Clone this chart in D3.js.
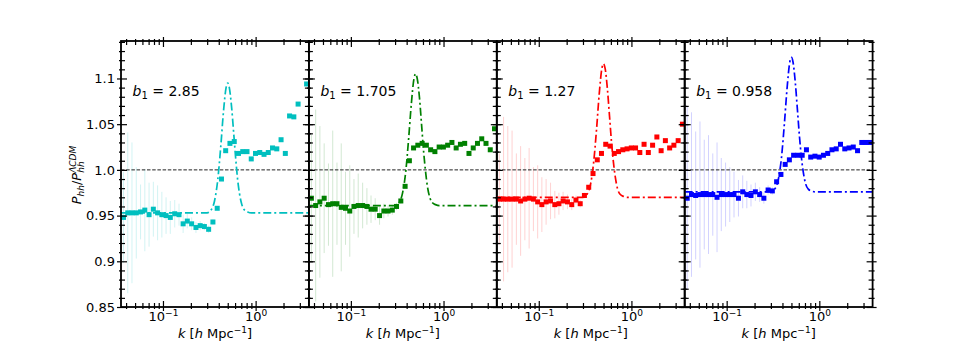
<!DOCTYPE html>
<html>
<head>
<meta charset="utf-8">
<title>Phh ratio panels</title>
<script src="https://d3js.org/d3.v7.min.js"></script>
<style>
  body { margin: 0; background: #fff; }
  svg text { font-family: "DejaVu Sans", sans-serif; fill: #000; }
</style>
</head>
<body>
<svg id="chart" width="969" height="346"></svg>
<script>
// k bins [h/Mpc], same for every panel
var kBins = [0.0375,0.0417,0.0463,0.0515,0.0573,0.0637,0.0708,0.0787,0.0875,0.0973,0.108,0.120,0.134,0.149,0.165,0.183,0.204,0.227,0.252,0.280,0.311,0.346,0.385,0.428,0.475,0.528,0.588,0.653,0.726,0.807,0.897,0.997,1.108,1.232,1.369,1.522,1.692,1.882,2.092,2.325,2.585,2.873,3.194,3.550,3.947];

var ratio1 = [0.948,0.953,0.953,0.953,0.954,0.956,0.951,0.957,0.953,0.951,0.950,0.948,0.952,0.951,0.941,0.944,0.941,0.937,0.939,0.938,0.935,0.943,0.958,0.990,1.021,1.029,1.031,1.018,1.020,1.020,1.012,1.018,1.019,1.017,1.019,1.024,1.023,1.033,1.018,1.059,1.058,1.072,null,1.094,null];
var ratio2 = [0.969,0.961,0.965,0.969,0.962,0.963,0.963,0.959,0.958,0.955,0.960,0.961,0.961,0.960,0.957,0.957,0.950,0.955,0.955,0.956,0.960,0.966,0.982,1.010,1.024,1.027,1.029,1.027,1.022,1.020,1.025,1.025,1.027,1.030,1.024,1.028,1.029,1.018,1.024,1.029,1.034,1.029,1.022,1.045,null];
var ratio3 = [0.968,0.968,0.968,0.968,0.968,0.966,0.968,0.969,0.968,0.965,0.962,0.965,0.966,0.962,0.963,0.966,0.965,0.962,0.967,0.963,0.972,0.981,0.996,1.011,1.018,1.028,1.026,1.018,1.020,1.022,1.023,1.024,1.024,1.019,1.028,1.019,1.027,1.036,1.021,1.032,1.024,1.027,1.032,1.050,null];
var ratio4 = [0.969,0.973,0.972,0.973,0.973,0.973,0.973,0.970,0.973,0.973,0.973,0.973,0.969,0.976,0.973,0.972,0.976,0.973,0.969,0.978,0.977,0.987,0.995,1.006,1.011,1.016,1.016,1.016,1.022,1.014,1.015,1.014,1.016,1.018,1.022,1.023,1.028,1.023,1.024,1.025,1.021,1.030,1.030,1.030,1.051];

// half length of the error bars (only the low-k bins have visible ones)
var err1 = [0.05,0.088,0.077,0.05,0.03,0.045,0.035,0.03,0.03,0.025,0.02,0.018,0.015,0.012,0.01,0.008,0.007,0.006,0.005,0.004,0.004,0.003];
var err2 = [0.07,0.105,0.083,0.06,0.045,0.08,0.045,0.07,0.04,0.05,0.03,0.035,0.025,0.02,0.015,0.012,0.01,0.008,0.006,0.005,0.004,0.003];
var err3 = [0.05,0.09,0.08,0.075,0.05,0.06,0.045,0.055,0.035,0.04,0.03,0.025,0.02,0.015,0.012,0.01,0.008,0.006,0.005,0.004,0.003];
var err4 = [0.1,0.09,0.07,0.08,0.06,0.065,0.045,0.06,0.04,0.035,0.03,0.025,0.02,0.018,0.015,0.012,0.01,0.008,0.006,0.005,0.004,0.003];

// model curve (dash-dot)
var kModel = [0.0352,0.25,0.30,0.33,0.36,0.39,0.42,0.45,0.48,0.50,0.52,0.55,0.58,0.61,0.64,0.67,0.71,0.76,0.82,0.9,3.76];
var model1 = [0.953,0.953,0.953,0.956,0.966,0.989,1.025,1.064,1.090,1.095,1.090,1.069,1.040,1.012,0.989,0.974,0.962,0.956,0.954,0.953,0.953];
var model2 = [0.961,0.961,0.961,0.964,0.974,0.997,1.034,1.073,1.100,1.105,1.100,1.079,1.049,1.020,0.998,0.982,0.970,0.964,0.962,0.961,0.961];
var model3 = [0.970,0.970,0.970,0.973,0.983,1.007,1.044,1.084,1.111,1.116,1.111,1.089,1.059,1.030,1.008,0.992,0.979,0.973,0.971,0.970,0.970];
var model4 = [0.976,0.976,0.976,0.979,0.989,1.013,1.051,1.091,1.118,1.123,1.118,1.096,1.066,1.037,1.014,0.998,0.985,0.979,0.977,0.976,0.976];

var bias = ["2.85", "1.705", "1.27", "0.958"];
var colors = ["#00bfbf", "#008000", "#ff0000", "#0000ff"];

var yMajor = [0.85, 0.9, 0.95, 1.0, 1.05, 1.1];
var yLabels = ["0.85", "0.9", "0.95", "1.0", "1.05", "1.1"];
var xMajor = [0.1, 1];
var xExp = ["\u22121", "0"];

var panels = [
  { vals: ratio1, err: err1, model: model1 },
  { vals: ratio2, err: err2, model: model2 },
  { vals: ratio3, err: err3, model: model3 },
  { vals: ratio4, err: err4, model: model4 }
];

var svg = d3.select("#chart");
svg.append("rect").attr("width", 969).attr("height", 346).attr("fill", "#fff");

var left0 = 121, panelW = 187.9, yTop = 41, yBot = 307;
var kDomain = [0.03524, 3.758];

var y = d3.scaleLinear().domain([0.85, 1.141]).range([yBot, yTop]);
var yMinor = d3.range(85, 115).map(function (v) { return v / 100; })
  .filter(function (v) { return Math.round(v * 100) % 5 !== 0; });

function tickStyle(g) {
  g.select(".domain").remove();
  g.selectAll(".tick line").attr("stroke", "#000").attr("stroke-width", 1.2);
  g.selectAll(".tick text").remove();
}

panels.forEach(function (p, i) {
  var x0 = left0 + i * panelW, x1 = x0 + panelW;
  var x = d3.scaleLog().domain(kDomain).range([x0, x1]);
  var xMinor = x.ticks().filter(function (v) { return xMajor.indexOf(v) < 0; });
  var col = colors[i];

  var clipId = "clip" + i;
  svg.append("clipPath").attr("id", clipId)
    .append("rect").attr("x", x0).attr("y", yTop).attr("width", panelW).attr("height", yBot - yTop);

  var g = svg.append("g").attr("clip-path", "url(#" + clipId + ")");

  // error bars
  g.selectAll("line.err")
    .data(p.vals.map(function (v, j) { return { k: kBins[j], v: v, e: p.err[j] || 0 }; })
      .filter(function (d) { return d.v !== null && d.e > 0; }))
    .enter().append("line")
    .attr("class", "err")
    .attr("x1", function (d) { return x(d.k); })
    .attr("x2", function (d) { return x(d.k); })
    .attr("y1", function (d) { return y(d.v - d.e); })
    .attr("y2", function (d) { return y(d.v + d.e); })
    .attr("stroke", col).attr("stroke-opacity", 0.18).attr("stroke-width", 1);

  // reference line at 1
  g.append("line")
    .attr("x1", x0).attr("x2", x1).attr("y1", y(1)).attr("y2", y(1))
    .attr("stroke", "#222").attr("stroke-width", 1).attr("stroke-dasharray", "3.5,1.7");

  // model
  var line = d3.line()
    .x(function (d, j) { return x(kModel[j]); })
    .y(function (d) { return y(d); })
    .curve(d3.curveMonotoneX);
  g.append("path").datum(p.model)
    .attr("d", line)
    .attr("fill", "none").attr("stroke", col).attr("stroke-width", 1.7)
    .attr("stroke-dasharray", "8,3,2,3");

  // data squares
  var s = 5;
  g.selectAll("rect.pt")
    .data(p.vals.map(function (v, j) { return { k: kBins[j], v: v }; })
      .filter(function (d) { return d.v !== null; }))
    .enter().append("rect")
    .attr("class", "pt")
    .attr("x", function (d) { return x(d.k) - s / 2; })
    .attr("y", function (d) { return y(d.v) - s / 2; })
    .attr("width", s).attr("height", s)
    .attr("fill", col);

  // ticks: out + in on every side
  var ax = svg.append("g");
  [[yBot, d3.axisBottom, d3.axisTop], [yTop, d3.axisTop, d3.axisBottom]].forEach(function (c) {
    ax.append("g").attr("transform", "translate(0," + c[0] + ")")
      .call(c[1](x).tickValues(xMajor).tickSize(4)).call(tickStyle);
    ax.append("g").attr("transform", "translate(0," + c[0] + ")")
      .call(c[2](x).tickValues(xMajor).tickSize(6)).call(tickStyle);
    ax.append("g").attr("transform", "translate(0," + c[0] + ")")
      .call(c[1](x).tickValues(xMinor).tickSize(2)).call(tickStyle);
    ax.append("g").attr("transform", "translate(0," + c[0] + ")")
      .call(c[2](x).tickValues(xMinor).tickSize(4)).call(tickStyle);
  });
  [[x0, d3.axisLeft, d3.axisRight], [x1, d3.axisRight, d3.axisLeft]].forEach(function (c) {
    ax.append("g").attr("transform", "translate(" + c[0] + ",0)")
      .call(c[1](y).tickValues(yMajor).tickSize(4)).call(tickStyle);
    ax.append("g").attr("transform", "translate(" + c[0] + ",0)")
      .call(c[2](y).tickValues(yMajor).tickSize(6)).call(tickStyle);
    ax.append("g").attr("transform", "translate(" + c[0] + ",0)")
      .call(c[1](y).tickValues(yMinor).tickSize(2)).call(tickStyle);
    ax.append("g").attr("transform", "translate(" + c[0] + ",0)")
      .call(c[2](y).tickValues(yMinor).tickSize(4)).call(tickStyle);
  });

  // x tick labels 10^n
  var lab = svg.append("g").attr("transform", "translate(0," + yBot + ")")
    .call(d3.axisBottom(x).tickValues(xMajor).tickSize(0));
  lab.select(".domain").remove();
  lab.selectAll(".tick text").each(function (d, j) {
    var t = d3.select(this).attr("dy", null).attr("y", 14)
      .attr("font-size", 13).attr("font-family", "DejaVu Sans").text("10");
    t.append("tspan").attr("dy", -5).attr("font-size", 9).text(xExp[j]);
  });

  // frame
  svg.append("rect").attr("x", x0).attr("y", yTop).attr("width", panelW).attr("height", yBot - yTop)
    .attr("fill", "none").attr("stroke", "#000").attr("stroke-width", 1.8);

  // b1 annotation
  var an = svg.append("text").attr("x", x0 + 11.5).attr("y", 96).attr("font-size", 14);
  an.append("tspan").attr("font-style", "italic").text("b");
  an.append("tspan").attr("font-size", 10).attr("dy", 3).text("1");
  an.append("tspan").attr("dy", -3).text(" = " + bias[i]);

  // x axis title
  var xt = svg.append("text").attr("x", (x0 + x1) / 2).attr("y", 338)
    .attr("text-anchor", "middle").attr("font-size", 13);
  xt.append("tspan").attr("font-style", "italic").text("k");
  xt.append("tspan").text(" [");
  xt.append("tspan").attr("font-style", "italic").text("h");
  xt.append("tspan").text(" Mpc");
  xt.append("tspan").attr("font-size", 9).attr("dy", -5).text("\u22121");
  xt.append("tspan").attr("dy", 5).text("]");
});

// y tick labels on the first panel only
var yl = svg.append("g").attr("transform", "translate(" + left0 + ",0)")
  .call(d3.axisLeft(y).tickValues(yMajor).tickSize(4).tickPadding(2)
    .tickFormat(function (d, j) { return yLabels[j]; }));
yl.select(".domain").remove();
yl.selectAll(".tick line").remove();
yl.selectAll(".tick text").attr("font-size", 13).attr("font-family", "DejaVu Sans");

// y axis title: P_hh / P_hh^ΛCDM
var yt = svg.append("text").attr("transform", "translate(81,175) rotate(-90)")
  .attr("text-anchor", "middle").attr("font-size", 13);
yt.append("tspan").attr("font-style", "italic").text("P");
yt.append("tspan").attr("font-style", "italic").attr("font-size", 9).attr("dy", 3).text("hh");
yt.append("tspan").attr("dy", -3).text("/");
yt.append("tspan").attr("font-style", "italic").text("P");
var sup = yt.append("tspan").attr("font-style", "italic").attr("font-size", 9).attr("dy", -5.5).text("\u039BCDM");
var supW = sup.node().getComputedTextLength();
yt.append("tspan").attr("font-style", "italic").attr("font-size", 9)
  .attr("dy", 8.5).attr("dx", -supW).text("hh");
</script>
</body>
</html>
